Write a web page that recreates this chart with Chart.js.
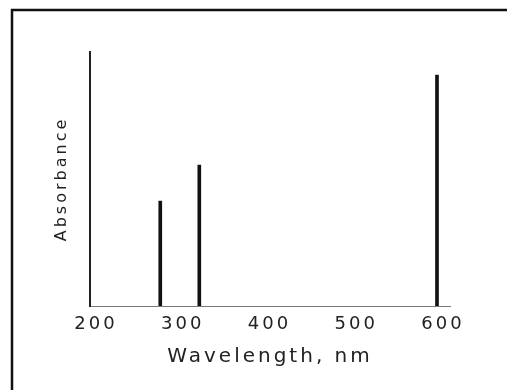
<!DOCTYPE html>
<html>
<head>
<meta charset="utf-8">
<script src="https://cdn.jsdelivr.net/npm/chart.js@4"></script>
<style>
  html, body { margin: 0; padding: 0; background: #fff; }
  #wrap { width: 507px; height: 390px; position: relative; }
</style>
</head>
<body>
<div id="wrap"><canvas id="myChart"></canvas></div>
<script>
// peak positions (nm) and absorbance heights (relative)
var wavelengths = [281, 326, 600];
var absorbance = [0.413, 0.555, 0.909];
var xTicks = [200, 300, 400, 500, 600];

var points = wavelengths.map(function (w, i) { return { x: w, y: absorbance[i] }; });

// frame around the figure (top + left edge) and wide letter spacing like the scan
var framePlugin = {
  id: "frame",
  beforeDraw: function (chart) {
    chart.ctx.letterSpacing = "3px";
  },
  afterDraw: function (chart) {
    var ctx = chart.ctx;
    ctx.save();
    ctx.strokeStyle = "#111";
    ctx.lineWidth = 2.5;
    ctx.beginPath();
    ctx.moveTo(12, 390);
    ctx.lineTo(12, 10);
    ctx.lineTo(507, 10);
    ctx.stroke();
    ctx.restore();
  }
};

Chart.defaults.font.family = "'DejaVu Sans', sans-serif";
Chart.defaults.color = "#222";

new Chart("myChart", {
  type: "bar",
  data: {
    datasets: [{
      data: points,
      backgroundColor: "#111",
      barThickness: 3
    }]
  },
  options: {
    responsive: true,
    maintainAspectRatio: false,
    animation: false,
    layout: { padding: { top: 52, right: 57, left: 0, bottom: 0 } },
    plugins: { legend: { display: false }, tooltip: { enabled: false } },
    scales: {
      x: {
        type: "linear",
        offset: false,
        min: 200,
        max: 615,
        afterFit: function (s) { s.height = 84; },
        afterBuildTicks: function (s) {
          s.ticks = xTicks.map(function (v) { return { value: v }; });
        },
        ticks: { padding: 8, labelOffset: 6, font: { size: 18 }, color: "#222" },
        grid: { drawOnChartArea: false, drawTicks: false, offset: false },
        border: { color: "#777", width: 1, dash: [3, 2] },
        title: {
          display: true,
          text: "Wavelength, nm",
          font: { size: 20 },
          color: "#222",
          padding: { top: 4, bottom: 21 }
        }
      },
      y: {
        min: 0,
        max: 1,
        afterFit: function (s) { s.width = 90; },
        ticks: { display: false },
        grid: { display: false },
        border: { color: "#222", width: 2 },
        title: {
          display: true,
          text: "Absorbance",
          font: { size: 16 },
          color: "#222",
          padding: { top: 52, bottom: 0 }
        }
      }
    }
  },
  plugins: [framePlugin]
});
</script>
</body>
</html>
